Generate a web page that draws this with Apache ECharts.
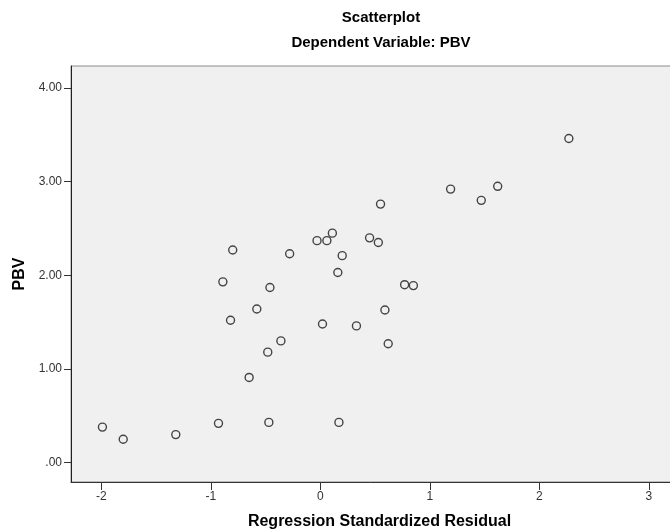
<!DOCTYPE html>
<html>
<head>
<meta charset="utf-8">
<script src="https://cdn.jsdelivr.net/npm/echarts@6/dist/echarts.min.js"></script>
<style>
html,body{margin:0;padding:0;background:#fff;}
#chart{width:670px;height:531px;}
</style>
</head>
<body>
<div id="chart"></div>
<script>
// Regression standardized residual (x) vs PBV (y)
var residuals = [-1.99, -1.80, -1.32, -0.93, -0.47, 0.17, -0.65, -0.48, -0.36, 0.02, 0.33, 0.62,
  -0.82, -0.58, 0.59, 0.77, 0.85, -0.89, -0.46, 0.16, 0.20, -0.28, -0.80, -0.03, 0.06, 0.11,
  0.45, 0.53, 0.55, 1.19, 1.47, 1.62, 2.27];
var pbv = [0.38, 0.25, 0.30, 0.42, 0.43, 0.43, 0.91, 1.18, 1.30, 1.48, 1.46, 1.27,
  1.52, 1.64, 1.63, 1.90, 1.89, 1.93, 1.87, 2.03, 2.21, 2.23, 2.27, 2.37, 2.37, 2.45,
  2.40, 2.35, 2.76, 2.92, 2.80, 2.95, 3.46];
var xTicks = [-2, -1, 0, 1, 2, 3];
var xTickLabels = ['-2', '-1', '0', '1', '2', '3'];
var yTicks = [0, 1, 2, 3, 4];
var yTickLabels = ['.00', '1.00', '2.00', '3.00', '4.00'];
var titleText = 'Scatterplot';
var subtitleText = 'Dependent Variable: PBV';
var xName = 'Regression Standardized Residual';
var yName = 'PBV';

var points = residuals.map(function (r, i) { return [r, pbv[i]]; });
var chart = echarts.init(document.getElementById('chart'), null, {renderer: 'canvas'});
var FONT = '"Liberation Sans", Arial, sans-serif';
chart.setOption({
  animation: false,
  backgroundColor: '#ffffff',
  title: [
    {text: titleText, left: 376, top: 5, textAlign: 'center',
      textStyle: {fontFamily: FONT, fontSize: 15, fontWeight: 'bold', color: '#000'}},
    {text: subtitleText, left: 376, top: 30, textAlign: 'center',
      textStyle: {fontFamily: FONT, fontSize: 15, fontWeight: 'bold', color: '#000'}}
  ],
  grid: {left: 71, top: 66, right: -2, bottom: 49, show: true, outerBoundsMode: 'none',
    backgroundColor: '#f0f0f0', borderColor: '#8a8a8a', borderWidth: 1, containLabel: false},
  xAxis: {
    type: 'value', min: -2.277, max: 3.212,
    name: xName, nameLocation: 'middle', nameGap: 32,
    nameTextStyle: {fontFamily: FONT, fontSize: 16, fontWeight: 'bold', color: '#000', padding: [0, 0, 0, 16]},
    axisLine: {show: true, onZero: false, lineStyle: {color: '#333', width: 1}},
    axisTick: {show: true, inside: false, length: 8, customValues: xTicks, lineStyle: {color: '#333'}},
    axisLabel: {customValues: xTicks, margin: 9, fontFamily: FONT, fontSize: 12, color: '#333',
      formatter: function (v) { var i = xTicks.indexOf(v); return i >= 0 ? xTickLabels[i] : ''; }},
    splitLine: {show: false}
  },
  yAxis: {
    type: 'value', min: -0.206, max: 4.234,
    name: yName, nameLocation: 'middle', nameGap: 40, nameRotate: 90,
    nameTextStyle: {fontFamily: FONT, fontSize: 16, fontWeight: 'bold', color: '#000'},
    axisLine: {show: true, onZero: false, lineStyle: {color: '#222', width: 1}},
    axisTick: {show: true, inside: false, length: 7, customValues: yTicks, lineStyle: {color: '#333'}},
    axisLabel: {customValues: yTicks, margin: 9, fontFamily: FONT, fontSize: 12, color: '#333',
      formatter: function (v) { var i = yTicks.indexOf(v); return i >= 0 ? yTickLabels[i] : ''; }},
    splitLine: {show: false}
  },
  series: [{
    type: 'scatter', data: points, symbol: 'circle', symbolSize: 8,
    itemStyle: {color: 'rgba(0,0,0,0)', borderColor: '#444', borderWidth: 1.4, opacity: 1},
    emphasis: {disabled: true}
  }]
});
</script>
</body>
</html>
